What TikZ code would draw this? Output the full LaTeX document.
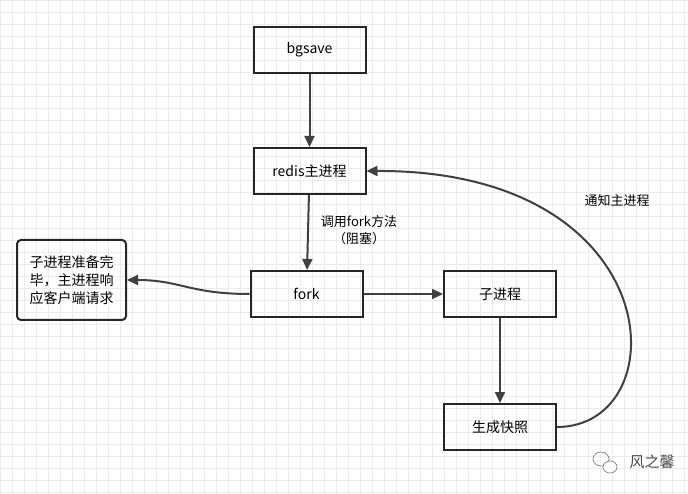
\documentclass[tikz,border=0pt]{standalone}
\usepackage{fontspec}
\setmainfont{Liberation Sans}
\newfontfamily\cjk{Noto Sans CJK SC}
\usetikzlibrary{arrows.meta}
\begin{document}
\begin{tikzpicture}[x=1pt,y=-1pt,
 box/.style={draw=black!85,line width=2pt,minimum width=112pt,minimum height=46pt,font=\cjk\fontsize{14}{18}\selectfont,inner sep=0pt},
 arr/.style={draw=black!75,line width=2pt,-{Triangle[length=11pt,width=10pt]}},
 lab/.style={font=\cjk\fontsize{13}{17}\selectfont,align=center}]
\fill[white] (0,0) rectangle (688,494);
\useasboundingbox (0,0) rectangle (688,494);
\draw[black!8,line width=0.5pt] (0,0) grid[step=12pt] (688,494);
\node[box] (bg) at (309.5,50) {bgsave};
\node[box] (redis) at (309.5,171) {redis主进程};
\node[box] (fork) at (306.5,294) {fork};
\node[box] (child) at (500,294) {子进程};
\node[box] (snap) at (500,427) {生成快照};
\node[box,rounded corners=4pt,minimum width=109pt,minimum height=80pt,align=center] (left) at (71.5,280) {子进程准备完\\毕，主进程响\\应客户端请求};
\draw[arr] (bg) -- (redis);
\draw[arr] (redis) -- (fork);
\draw[arr] (fork) -- (child);
\draw[arr] (child) -- (snap);
\draw[arr] (fork.west) .. controls (190,294) and (180,280) .. (left.east);
\draw[arr] (snap.east) .. controls (678,427) and (672,170) .. (redis.east);
\node[lab] (l1) at (359,230) {调用fork方法\\（阻塞）};
\node[lab] (l2) at (617,201) {通知主进程};
\node[font=\cjk\fontsize{15}{18}\selectfont,text=black!70] (wm) at (652,462) {风之馨};
\draw[black!50,line width=0.7pt] (601,459) ellipse (8pt and 7pt);
\draw[black!50,line width=0.7pt,fill=white] (610,467) ellipse (7pt and 6pt);
\end{tikzpicture}
\end{document}
